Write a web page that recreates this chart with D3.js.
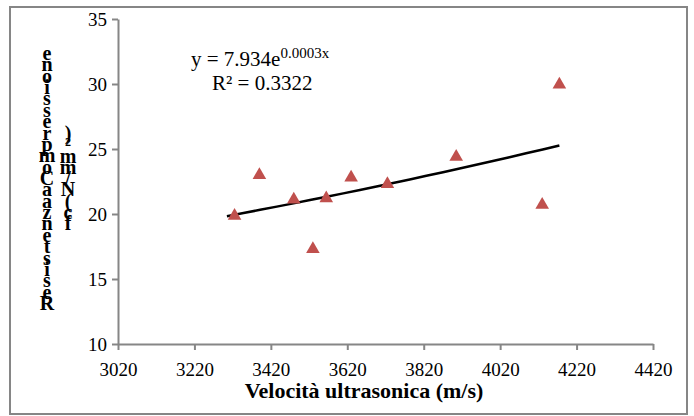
<!DOCTYPE html>
<html>
<head>
<meta charset="utf-8">
<script src="https://cdn.jsdelivr.net/npm/d3@7"></script>
<style>
  body { margin: 0; background: #fff; }
  svg { display: block; }
</style>
</head>
<body>
<script>
// velocity (m/s) vs compressive strength (N/mm2)
const velocity = [3325, 3390, 3480, 3530, 3565, 3630, 3725, 3905, 4130, 4175]
const strength = [19.85, 23.0, 21.1, 17.3, 21.2, 22.8, 22.3, 24.4, 20.7, 29.95]
const xTicks = [3020, 3220, 3420, 3620, 3820, 4020, 4220, 4420]
const yTicks = [10, 15, 20, 25, 30, 35]

const W = 694, H = 416
const margin = { left: 118, right: 41, top: 19, bottom: 72 }
const axisColor = '#868686'
const serif = '"Liberation Serif", "Times New Roman", serif'

const svg = d3.select('body').append('svg')
  .attr('width', W)
  .attr('height', H)

// outer frame
svg.append('rect')
  .attr('x', 10).attr('y', 7)
  .attr('width', 677).attr('height', 407)
  .attr('fill', '#fff')
  .attr('stroke', axisColor)
  .attr('stroke-width', 2)

const x = d3.scaleLinear().domain([3020, 4420]).range([margin.left, W - margin.right])
const y = d3.scaleLinear().domain([10, 35]).range([H - margin.bottom, margin.top])

const xAxis = svg.append('g')
  .attr('transform', `translate(0, ${y(10)})`)
  .call(d3.axisBottom(x).tickValues(xTicks).tickFormat(d3.format('d'))
    .tickSize(6).tickSizeOuter(0).tickPadding(13))
const yAxis = svg.append('g')
  .attr('transform', `translate(${x(3020)}, 0)`)
  .call(d3.axisLeft(y).tickValues(yTicks).tickSize(6).tickSizeOuter(0).tickPadding(5))

;[xAxis, yAxis].forEach(a => {
  a.select('.domain').attr('stroke', axisColor).attr('stroke-width', 2)
  a.selectAll('.tick line').attr('stroke', axisColor).attr('stroke-width', 2)
  a.selectAll('.tick text')
    .attr('fill', '#000')
    .style('font-family', serif)
    .style('font-size', '19px')
})

// exponential trend line fitted on log(y)
const lx = velocity, ly = strength.map(Math.log)
const mx = d3.mean(lx), my = d3.mean(ly)
const sxy = d3.sum(lx, (v, i) => (v - mx) * (ly[i] - my))
const sxx = d3.sum(lx, v => (v - mx) ** 2)
const b = sxy / sxx
const a = Math.exp(my - b * mx)
const [x0, x1] = d3.extent(velocity)
const trend = d3.range(0, 21).map(i => x0 - 20 + (x1 - x0 + 20) * i / 20)

svg.append('path')
  .datum(trend)
  .attr('fill', 'none')
  .attr('stroke', '#000')
  .attr('stroke-width', 2.5)
  .attr('d', d3.line().x(d => x(d)).y(d => y(a * Math.exp(b * d))))

// points
const tri = d3.symbol().type(d3.symbolTriangle).size(80)
svg.append('g')
  .selectAll('path')
  .data(velocity)
  .join('path')
  .attr('d', tri)
  .attr('transform', (d, i) => `translate(${x(d)}, ${y(strength[i])})`)
  .attr('fill', '#C0504D')

// equation
const eq = svg.append('text')
  .attr('x', 191).attr('y', 66)
  .style('font-family', serif)
  .style('font-size', '21px')
eq.append('tspan').text('y = 7.934e')
eq.append('tspan').attr('dy', -8).style('font-size', '15px').text('0.0003x')
svg.append('text')
  .attr('x', 212).attr('y', 90)
  .style('font-family', serif)
  .style('font-size', '21px')
  .text('R² = 0.3322')

// x title
svg.append('text')
  .attr('x', 364).attr('y', 398)
  .attr('text-anchor', 'middle')
  .style('font-family', serif)
  .style('font-size', '22px')
  .style('font-weight', 'bold')
  .text('Velocità ultrasonica (m/s)')

// y title: letters stacked bottom to top
function stack(str, cx, yBottom, step) {
  svg.append('g')
    .selectAll('text')
    .data(Array.from(str))
    .join('text')
    .attr('x', cx)
    .attr('y', (d, i) => yBottom - i * step)
    .attr('text-anchor', 'middle')
    .attr('dominant-baseline', 'central')
    .style('font-family', serif)
    .style('font-size', '20px')
    .style('font-weight', 'bold')
    .text(d => d)
}
stack('ResistenzaaCompressione', 47, 303, 250 / 22)
stack('fc(N/mm²)', 68, 223, 90 / 8)
</script>
</body>
</html>
